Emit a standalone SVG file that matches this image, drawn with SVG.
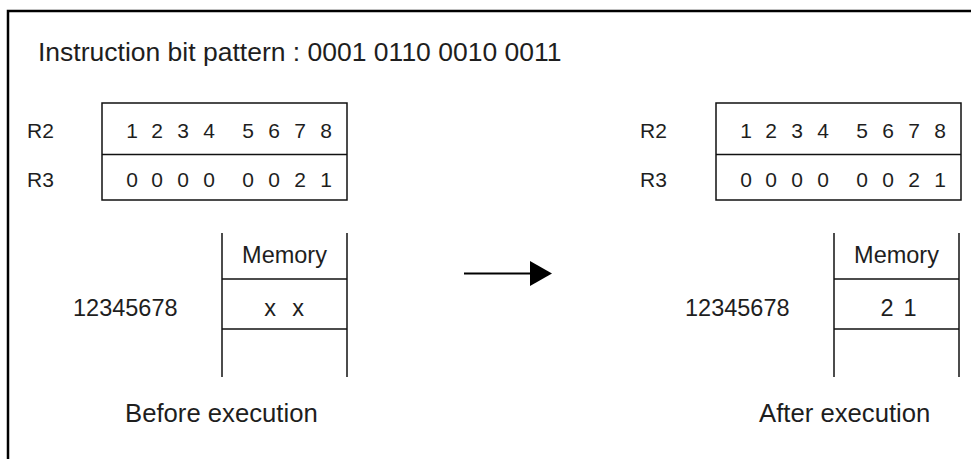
<svg xmlns="http://www.w3.org/2000/svg" width="971" height="459" viewBox="0 0 971 459">
<style>
  text { font-family: "Liberation Sans", Arial, sans-serif; fill: #1e1e1e; }
  .title { font-size: 26.5px; }
  .reg { font-size: 21px; }
  .dig { font-size: 21px; text-anchor: middle; }
  .mem { font-size: 23.5px; }
  .mid { text-anchor: middle; }
  .cap { font-size: 25.7px; }
  .box { fill: none; stroke: #111; stroke-width: 1.5; }
  .ln { stroke: #111; stroke-width: 1.5; fill: none; }
</style>
<rect x="0" y="0" width="971" height="459" fill="#fff"/>
<path d="M8,462 L8,11 L975,11" fill="none" stroke="#000" stroke-width="2.5"/>
<text class="title" x="38" y="61">Instruction bit pattern : 0001 0110 0010 0011</text>

<g id="before-registers">
  <text class="reg" x="27" y="138">R2</text>
  <text class="reg" x="27" y="187">R3</text>
  <rect class="box" x="102" y="103" width="245" height="97"/>
  <line class="ln" x1="102" y1="154.5" x2="347" y2="154.5"/>
  <g>
    <text class="dig" x="132" y="138">1</text><text class="dig" x="157" y="138">2</text><text class="dig" x="183" y="138">3</text><text class="dig" x="209" y="138">4</text>
    <text class="dig" x="248" y="138">5</text><text class="dig" x="274" y="138">6</text><text class="dig" x="300" y="138">7</text><text class="dig" x="326" y="138">8</text>
    <text class="dig" x="132" y="187">0</text><text class="dig" x="157" y="187">0</text><text class="dig" x="183" y="187">0</text><text class="dig" x="209" y="187">0</text>
    <text class="dig" x="248" y="187">0</text><text class="dig" x="274" y="187">0</text><text class="dig" x="300" y="187">2</text><text class="dig" x="326" y="187">1</text>
  </g>
</g>

<g id="before-memory">
  <line class="ln" x1="222" y1="233" x2="222" y2="377"/>
  <line class="ln" x1="347" y1="233" x2="347" y2="377"/>
  <line class="ln" x1="222" y1="279" x2="347" y2="279"/>
  <line class="ln" x1="222" y1="329" x2="347" y2="329"/>
  <text class="mem mid" x="284.5" y="263">Memory</text>
  <text class="mem" x="73" y="316">12345678</text>
  <text class="mem mid" x="270" y="316">x</text>
  <text class="mem mid" x="298" y="316">x</text>
</g>
<text id="before-caption" class="cap" x="125" y="422">Before execution</text>

<g id="connectors">
  <line x1="464" y1="273.5" x2="532" y2="273.5" stroke="#000" stroke-width="2"/>
  <polygon points="530,261 552,273.5 530,286" fill="#000"/>
</g>

<g id="after-registers">
  <text class="reg" x="640" y="138">R2</text>
  <text class="reg" x="640" y="187">R3</text>
  <rect class="box" x="716" y="103" width="245" height="97"/>
  <line class="ln" x1="716" y1="154.5" x2="961" y2="154.5"/>
  <g>
    <text class="dig" x="746" y="138">1</text><text class="dig" x="771" y="138">2</text><text class="dig" x="797" y="138">3</text><text class="dig" x="823" y="138">4</text>
    <text class="dig" x="862" y="138">5</text><text class="dig" x="888" y="138">6</text><text class="dig" x="914" y="138">7</text><text class="dig" x="940" y="138">8</text>
    <text class="dig" x="746" y="187">0</text><text class="dig" x="771" y="187">0</text><text class="dig" x="797" y="187">0</text><text class="dig" x="823" y="187">0</text>
    <text class="dig" x="862" y="187">0</text><text class="dig" x="888" y="187">0</text><text class="dig" x="914" y="187">2</text><text class="dig" x="940" y="187">1</text>
  </g>
</g>

<g id="after-memory">
  <line class="ln" x1="834" y1="233" x2="834" y2="377"/>
  <line class="ln" x1="959" y1="233" x2="959" y2="377"/>
  <line class="ln" x1="834" y1="279" x2="959" y2="279"/>
  <line class="ln" x1="834" y1="329" x2="959" y2="329"/>
  <text class="mem mid" x="896.5" y="263">Memory</text>
  <text class="mem" x="685" y="316">12345678</text>
  <text class="mem mid" x="887" y="316">2</text>
  <text class="mem mid" x="910" y="316">1</text>
</g>
<text id="after-caption" class="cap" x="759" y="422">After execution</text>
</svg>
